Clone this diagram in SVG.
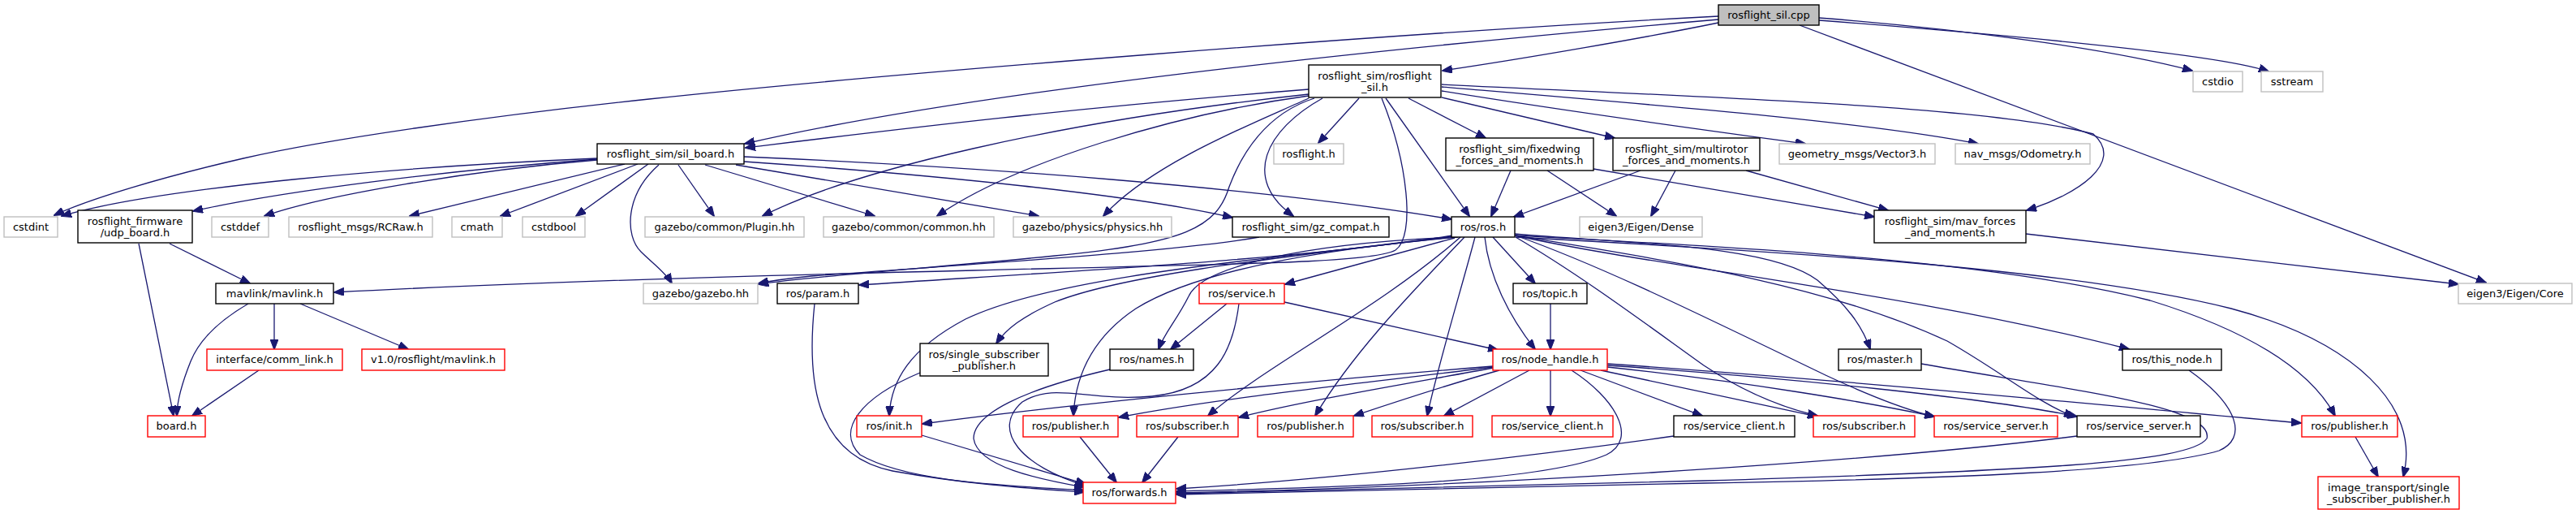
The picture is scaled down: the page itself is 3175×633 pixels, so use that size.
<svg xmlns="http://www.w3.org/2000/svg" width="3175" height="633" viewBox="0 0 3175 633">
<style>
rect{fill:#fff;stroke-width:1.4}
.k rect{stroke:#000}
.g rect{stroke:#bfbfbf}
.r rect{stroke:#ff0000}
.root rect{fill:#bfbfbf;stroke:#000}
text{font-family:"DejaVu Sans","Liberation Sans",sans-serif;font-size:13px;fill:#000;text-anchor:middle}
#edges path{fill:none;stroke:#191970;stroke-width:1.3;marker-end:url(#ah)}
</style>
<defs>
<marker id="ah" viewBox="0 0 13 10" refX="12" refY="5" markerWidth="13" markerHeight="10" markerUnits="userSpaceOnUse" orient="auto">
<path d="M0,0 L13,5 L0,10 z" fill="#191970" stroke="#191970" stroke-width="1"/>
</marker>
</defs>
<rect x="0" y="0" width="3175" height="633" style="fill:#fff;stroke:none"/>
<g id="edges">
<path d="M2118,28 C2030,46 1880,72 1778,87"/>
<path d="M2118,24 C1700,60 1200,112 918,177"/>
<path d="M2118,20 C1700,42 1100,90 800,122 C600,143 400,172 300,195 C200,218 110,245 67,265"/>
<path d="M2242,22 C2420,36 2600,60 2702,87"/>
<path d="M2242,25 C2500,45 2740,68 2796,88"/>
<path d="M2218,31 L3064,348"/>
<path d="M1613,110 C1300,135 1100,160 919,182"/>
<path d="M1675,121 L1625,176"/>
<path d="M1708,121 L1811,266"/>
<path d="M1736,121 L1831,170"/>
<path d="M1777,120 L1990,170"/>
<path d="M1777,112 C1950,140 2100,160 2225,177"/>
<path d="M1777,107 C2050,130 2300,150 2438,177"/>
<path d="M1777,104 C2100,120 2450,130 2580,165 C2620,200 2560,240 2498,259"/>
<path d="M1613,116 C1300,150 1050,210 940,266"/>
<path d="M1613,118 C1450,140 1250,200 1155,266"/>
<path d="M1613,121 C1550,150 1420,200 1360,266"/>
<path d="M1630,121 C1560,160 1530,220 1594,266"/>
<path d="M1620,121 C1560,140 1530,190 1515,230 C1500,280 1460,300 1300,315 C1150,330 1000,340 935,350"/>
<path d="M1703,121 C1735,200 1745,290 1720,308 C1690,325 1500,325 1200,333 C900,340 600,350 412,360"/>
<path d="M1552,292 C1450,310 1200,325 1000,340 C970,343 950,346 935,349"/>
<path d="M736,195 C500,205 200,230 76,266"/>
<path d="M736,196 C550,210 350,235 238,260"/>
<path d="M736,197 C580,210 400,240 326,266"/>
<path d="M770,202 L505,266"/>
<path d="M786,202 L617,266"/>
<path d="M799,202 L710,266"/>
<path d="M812,203 C770,240 770,290 790,310 C805,325 820,335 828,349"/>
<path d="M836,203 L880,266"/>
<path d="M869,203 L1078,266"/>
<path d="M907,203 L1280,266"/>
<path d="M917,199 C1150,215 1400,240 1519,268"/>
<path d="M917,193 C1200,205 1550,230 1789,270"/>
<path d="M209,300 L308,349"/>
<path d="M171,300 L214,512"/>
<path d="M306,374 C270,395 245,420 235,445 C225,470 218,495 218,512"/>
<path d="M338,374 L338,430"/>
<path d="M370,374 L503,430"/>
<path d="M319,456 L237,512"/>
<path d="M1862,210 L1838,266"/>
<path d="M1907,210 L1992,266"/>
<path d="M1964,208 L2310,267"/>
<path d="M2022,210 L1866,267"/>
<path d="M2065,210 L2035,266"/>
<path d="M2152,210 L2327,259"/>
<path d="M2497,288 L3030,350"/>
<path d="M1790,290 C1600,320 1300,335 1059,351"/>
<path d="M1790,292 C1550,320 1300,340 1190,393 C1120,430 1098,470 1096,512"/>
<path d="M1790,291 C1550,320 1380,340 1300,372 C1260,390 1240,405 1228,423"/>
<path d="M1793,293 L1584,350"/>
<path d="M1795,292 C1600,300 1480,330 1465,365 C1450,395 1435,410 1428,430"/>
<path d="M1797,292 C1650,305 1480,330 1400,380 C1340,420 1325,470 1323,512"/>
<path d="M1800,292 C1700,380 1560,450 1489,512"/>
<path d="M1805,292 C1750,350 1670,430 1621,512"/>
<path d="M1818,292 C1800,360 1775,440 1759,512"/>
<path d="M1830,292 C1835,340 1860,390 1892,430"/>
<path d="M1840,292 L1892,349"/>
<path d="M1867,288 C2000,300 2180,300 2240,345 C2275,375 2295,400 2305,430"/>
<path d="M1867,290 C2050,330 2350,360 2624,430"/>
<path d="M1868,292 C1950,340 2030,400 2100,450 C2160,490 2210,505 2240,512"/>
<path d="M1868,290 C1980,330 2100,390 2250,462 C2310,490 2350,505 2384,513"/>
<path d="M1868,290 C2050,320 2250,350 2400,420 C2470,460 2510,495 2556,513"/>
<path d="M1868,290 C2150,305 2450,320 2650,370 C2780,410 2850,460 2878,512"/>
<path d="M1868,292 C2200,310 2550,330 2750,380 C2900,420 2985,500 2962,587"/>
<path d="M1512,374 L1443,430"/>
<path d="M1583,372 L1846,431"/>
<path d="M1527,374 C1520,430 1500,480 1420,488 C1340,495 1300,470 1260,495 C1220,530 1260,575 1338,598"/>
<path d="M1368,455 C1260,480 1200,510 1200,540 C1205,575 1280,590 1336,600"/>
<path d="M1134,459 C1060,490 1030,530 1060,560 C1120,595 1250,598 1336,604"/>
<path d="M1004,374 C995,460 1000,560 1100,580 C1200,598 1280,602 1336,606"/>
<path d="M1136,536 L1338,596"/>
<path d="M1331,538 L1376,594"/>
<path d="M1452,538 L1408,594"/>
<path d="M1840,451 C1600,470 1300,500 1137,522"/>
<path d="M1840,452 C1700,470 1500,490 1379,514"/>
<path d="M1841,453 C1720,475 1600,495 1527,514"/>
<path d="M1848,456 C1780,475 1720,495 1669,512"/>
<path d="M1885,456 L1780,512"/>
<path d="M1911,456 L1911,512"/>
<path d="M1948,456 L2098,512"/>
<path d="M1973,456 L2240,513"/>
<path d="M1981,452 C2150,470 2300,495 2384,513"/>
<path d="M1981,450 C2200,465 2450,490 2560,513"/>
<path d="M1981,448 C2300,470 2600,500 2836,521"/>
<path d="M1937,456 C1990,490 2020,540 1980,560 C1900,595 1650,600 1450,605"/>
<path d="M2063,537 C1900,560 1650,590 1450,602"/>
<path d="M2560,537 C2300,570 1800,600 1450,607"/>
<path d="M2368,448 C2550,480 2730,500 2720,540 C2700,570 2500,580 2100,592 C1800,600 1600,605 1450,608"/>
<path d="M2698,456 C2760,500 2770,540 2735,555 C2650,580 2400,590 2100,595 C1800,603 1600,607 1450,609"/>
<path d="M2903,538 L2931,587"/>
<path d="M1911,374 L1911,430"/>
</g>
<g id="n_cpp" class="root"><rect x="2118" y="6" width="124" height="25"/><text x="2180" y="22.5">rosflight_sil.cpp</text></g>
<g id="n_sil_h" class="k"><rect x="1613" y="80" width="163" height="40"/><text x="1694.5" y="97.5">rosflight_sim/rosflight</text><text x="1694.5" y="111.5">_sil.h</text></g>
<g id="n_sil_board" class="k"><rect x="736" y="177" width="181" height="25"/><text x="826.5" y="193.5">rosflight_sim/sil_board.h</text></g>
<g id="n_rosflight_h" class="g"><rect x="1570" y="177" width="86" height="25"/><text x="1613" y="193.5">rosflight.h</text></g>
<g id="n_fixedwing" class="k"><rect x="1782" y="170" width="182" height="40"/><text x="1873" y="187.5">rosflight_sim/fixedwing</text><text x="1873" y="201.5">_forces_and_moments.h</text></g>
<g id="n_multirotor" class="k"><rect x="1988" y="170" width="181" height="40"/><text x="2078.5" y="187.5">rosflight_sim/multirotor</text><text x="2078.5" y="201.5">_forces_and_moments.h</text></g>
<g id="n_vector3" class="g"><rect x="2193" y="177" width="192" height="25"/><text x="2289" y="193.5">geometry_msgs/Vector3.h</text></g>
<g id="n_odometry" class="g"><rect x="2410" y="177" width="166" height="25"/><text x="2493" y="193.5">nav_msgs/Odometry.h</text></g>
<g id="n_cstdio" class="g"><rect x="2703" y="88" width="61" height="25"/><text x="2733.5" y="104.5">cstdio</text></g>
<g id="n_sstream" class="g"><rect x="2787" y="88" width="76" height="25"/><text x="2825" y="104.5">sstream</text></g>
<g id="n_cstdint" class="g"><rect x="5" y="267" width="66" height="25"/><text x="38" y="283.5">cstdint</text></g>
<g id="n_udp_board" class="k"><rect x="96" y="259" width="141" height="40"/><text x="166.5" y="276.5">rosflight_firmware</text><text x="166.5" y="290.5">/udp_board.h</text></g>
<g id="n_cstddef" class="g"><rect x="261" y="267" width="70" height="25"/><text x="296" y="283.5">cstddef</text></g>
<g id="n_rcraw" class="g"><rect x="356" y="267" width="177" height="25"/><text x="444.5" y="283.5">rosflight_msgs/RCRaw.h</text></g>
<g id="n_cmath" class="g"><rect x="557" y="267" width="62" height="25"/><text x="588" y="283.5">cmath</text></g>
<g id="n_cstdbool" class="g"><rect x="644" y="267" width="77" height="25"/><text x="682.5" y="283.5">cstdbool</text></g>
<g id="n_plugin" class="g"><rect x="795" y="267" width="196" height="25"/><text x="893" y="283.5">gazebo/common/Plugin.hh</text></g>
<g id="n_common" class="g"><rect x="1015" y="267" width="210" height="25"/><text x="1120" y="283.5">gazebo/common/common.hh</text></g>
<g id="n_physics" class="g"><rect x="1249" y="267" width="195" height="25"/><text x="1346.5" y="283.5">gazebo/physics/physics.hh</text></g>
<g id="n_gz_compat" class="k"><rect x="1519" y="267" width="193" height="25"/><text x="1615.5" y="283.5">rosflight_sim/gz_compat.h</text></g>
<g id="n_ros_h" class="k"><rect x="1789" y="267" width="78" height="25"/><text x="1828" y="283.5">ros/ros.h</text></g>
<g id="n_dense" class="g"><rect x="1947" y="267" width="151" height="25"/><text x="2022.5" y="283.5">eigen3/Eigen/Dense</text></g>
<g id="n_mav_forces" class="k"><rect x="2310" y="259" width="187" height="40"/><text x="2403.5" y="276.5">rosflight_sim/mav_forces</text><text x="2403.5" y="290.5">_and_moments.h</text></g>
<g id="n_core" class="g"><rect x="3030" y="349" width="140" height="25"/><text x="3100" y="365.5">eigen3/Eigen/Core</text></g>
<g id="n_mavlink" class="k"><rect x="266" y="349" width="145" height="25"/><text x="338.5" y="365.5">mavlink/mavlink.h</text></g>
<g id="n_gazebo" class="g"><rect x="793" y="349" width="141" height="25"/><text x="863.5" y="365.5">gazebo/gazebo.hh</text></g>
<g id="n_param" class="k"><rect x="958" y="349" width="100" height="25"/><text x="1008" y="365.5">ros/param.h</text></g>
<g id="n_service" class="r"><rect x="1478" y="349" width="105" height="25"/><text x="1530.5" y="365.5">ros/service.h</text></g>
<g id="n_topic" class="k"><rect x="1865" y="349" width="91" height="25"/><text x="1910.5" y="365.5">ros/topic.h</text></g>
<g id="n_comm_link" class="r"><rect x="255" y="430" width="167" height="26"/><text x="338.5" y="447">interface/comm_link.h</text></g>
<g id="n_v1mavlink" class="r"><rect x="446" y="430" width="176" height="26"/><text x="534" y="447">v1.0/rosflight/mavlink.h</text></g>
<g id="n_single_sub" class="k"><rect x="1134" y="423" width="158" height="40"/><text x="1213" y="440.5">ros/single_subscriber</text><text x="1213" y="454.5">_publisher.h</text></g>
<g id="n_names" class="k"><rect x="1368" y="430" width="103" height="26"/><text x="1419.5" y="447">ros/names.h</text></g>
<g id="n_node_handle" class="r"><rect x="1840" y="430" width="141" height="26"/><text x="1910.5" y="447">ros/node_handle.h</text></g>
<g id="n_master" class="k"><rect x="2266" y="430" width="102" height="26"/><text x="2317" y="447">ros/master.h</text></g>
<g id="n_this_node" class="k"><rect x="2616" y="430" width="122" height="26"/><text x="2677" y="447">ros/this_node.h</text></g>
<g id="n_board" class="r"><rect x="182" y="512" width="71" height="26"/><text x="217.5" y="529">board.h</text></g>
<g id="n_init" class="r"><rect x="1056" y="512" width="80" height="26"/><text x="1096" y="529">ros/init.h</text></g>
<g id="n_pub1" class="r"><rect x="1261" y="512" width="117" height="26"/><text x="1319.5" y="529">ros/publisher.h</text></g>
<g id="n_sub1" class="r"><rect x="1401" y="512" width="125" height="26"/><text x="1463.5" y="529">ros/subscriber.h</text></g>
<g id="n_pub2" class="r"><rect x="1550" y="512" width="118" height="26"/><text x="1609" y="529">ros/publisher.h</text></g>
<g id="n_sub2" class="r"><rect x="1691" y="512" width="124" height="26"/><text x="1753" y="529">ros/subscriber.h</text></g>
<g id="n_sc_red" class="r"><rect x="1839" y="512" width="149" height="26"/><text x="1913.5" y="529">ros/service_client.h</text></g>
<g id="n_sc_black" class="k"><rect x="2063" y="512" width="149" height="26"/><text x="2137.5" y="529">ros/service_client.h</text></g>
<g id="n_sub3" class="r"><rect x="2235" y="512" width="125" height="26"/><text x="2297.5" y="529">ros/subscriber.h</text></g>
<g id="n_ss_red" class="r"><rect x="2384" y="512" width="152" height="26"/><text x="2460" y="529">ros/service_server.h</text></g>
<g id="n_ss_black" class="k"><rect x="2560" y="512" width="152" height="26"/><text x="2636" y="529">ros/service_server.h</text></g>
<g id="n_pub3" class="r"><rect x="2837" y="512" width="118" height="26"/><text x="2896" y="529">ros/publisher.h</text></g>
<g id="n_forwards" class="r"><rect x="1335" y="594" width="114" height="26"/><text x="1392" y="611">ros/forwards.h</text></g>
<g id="n_image_transport" class="r"><rect x="2857" y="587" width="174" height="40"/><text x="2944" y="604.5">image_transport/single</text><text x="2944" y="618.5">_subscriber_publisher.h</text></g>
</svg>
